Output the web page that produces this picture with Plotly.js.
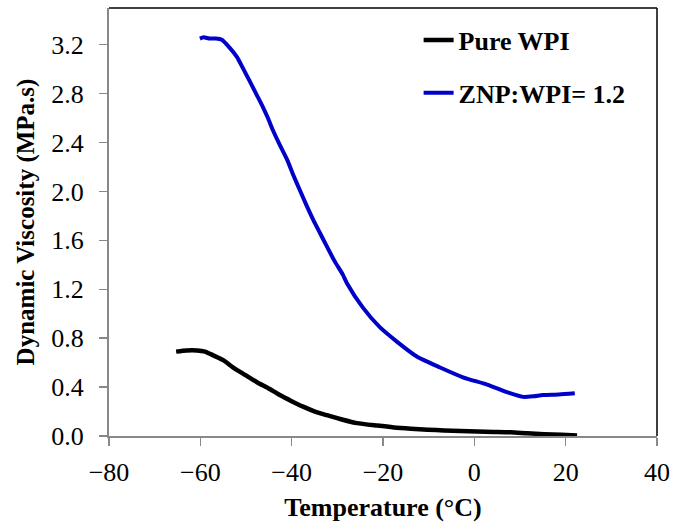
<!DOCTYPE html>
<html>
<head>
<meta charset="utf-8">
<script src="https://cdn.plot.ly/plotly-3.0.1.min.js"></script>
<style>html,body{margin:0;padding:0;background:#fff;}#chart{width:688px;height:522px;}</style>
</head>
<body>
<div id="chart"></div>
<script>
const seriesNames = ["Pure WPI", "ZNP:WPI= 1.2"];
const pureTemp = [-65.3, -63.0, -60.7, -59.0, -57.2, -55.0, -52.8, -50.2, -47.6, -45.1, -42.6, -40.0, -37.5, -34.9, -32.3, -29.0, -25.7, -21.3, -17.6, -13.9, -10.2, -6.6, -3.0, 0.6, 4.3, 8.0, 11.6, 15.3, 19.0, 22.5];
const pureVisc = [0.69, 0.70, 0.70, 0.69, 0.66, 0.62, 0.56, 0.50, 0.44, 0.39, 0.335, 0.285, 0.24, 0.20, 0.17, 0.135, 0.105, 0.085, 0.07, 0.06, 0.052, 0.045, 0.04, 0.036, 0.033, 0.03, 0.022, 0.015, 0.01, 0.005];
const znpTemp = [-60.1, -59.3, -58.0, -56.6, -55.3, -53.7, -52.0, -50.7, -49.3, -47.8, -46.3, -45.2, -44.1, -42.6, -41.0, -39.6, -38.2, -36.8, -35.3, -33.8, -32.3, -30.6, -28.8, -27.9, -24.4, -20.7, -16.9, -12.6, -7.5, -2.5, 2.8, 7.8, 10.7, 13.0, 15.0, 18.5, 22.0];
const znpVisc = [3.25, 3.26, 3.25, 3.25, 3.24, 3.18, 3.10, 3.01, 2.91, 2.80, 2.69, 2.60, 2.50, 2.38, 2.26, 2.13, 2.01, 1.89, 1.77, 1.66, 1.55, 1.43, 1.32, 1.25, 1.05, 0.89, 0.77, 0.65, 0.56, 0.48, 0.42, 0.35, 0.32, 0.325, 0.335, 0.34, 0.35];
const xTicks = [-80, -60, -40, -20, 0, 20, 40];
const yTicks = [0.0, 0.4, 0.8, 1.2, 1.6, 2.0, 2.4, 2.8, 3.2];

const serif = "Liberation Serif";
const traces = [
  {x: pureTemp, y: pureVisc, name: seriesNames[0], mode: "lines", type: "scatter", legendgroup: "a",
   line: {color: "#000000", width: 4.5, shape: "spline", smoothing: 0.6}},
  {x: znpTemp, y: znpVisc, name: seriesNames[1], mode: "lines", type: "scatter", legendgroup: "b",
   line: {color: "#0000c8", width: 4, shape: "spline", smoothing: 0.6}}
];
const layout = {
  width: 688, height: 522,
  margin: {l: 109, r: 31, t: 8, b: 86},
  paper_bgcolor: "#ffffff", plot_bgcolor: "#ffffff",
  font: {family: serif, color: "#000000", size: 26},
  showlegend: true,
  legend: {x: 0.565, y: 0.98, xanchor: "left", yanchor: "top", bgcolor: "rgba(0,0,0,0)",
    font: {family: serif, size: 26, color: "#000000", weight: "bold"},
    traceorder: "grouped", tracegroupgap: 16},
  xaxis: {
    range: [-80, 40], tickmode: "array", tickvals: xTicks, tickformat: "d",
    showgrid: false, zeroline: false, showline: true, linecolor: "#888888", linewidth: 2,
    ticks: "outside", ticklen: 8, tickwidth: 1.5, tickcolor: "#888888", ticklabelstandoff: 4,
    tickfont: {family: serif, size: 26, color: "#000000"},
    title: {text: "Temperature (°C)", font: {family: serif, size: 26, color: "#000000", weight: "bold"}, standoff: 14}
  },
  yaxis: {
    range: [0, 3.5], tickmode: "array", tickvals: yTicks, tickformat: ".1f",
    showgrid: false, zeroline: false, showline: true, linecolor: "#888888", linewidth: 2,
    ticks: "outside", ticklen: 8, tickwidth: 1.5, tickcolor: "#888888", ticklabelstandoff: 10,
    tickfont: {family: serif, size: 26, color: "#000000"},
    title: {text: "Dynamic Viscosity (MPa.s)", font: {family: serif, size: 25, color: "#000000", weight: "bold"}, standoff: 10}
  },
  shapes: [
    {type: "line", xref: "paper", yref: "paper", x0: 0, x1: 1, y0: 1, y1: 1, line: {color: "#000000", width: 1.5}},
    {type: "line", xref: "paper", yref: "paper", x0: 1, x1: 1, y0: 0, y1: 1, line: {color: "#000000", width: 1.5}}
  ]
};
Plotly.newPlot("chart", traces, layout, {displayModeBar: false, staticPlot: true});
</script>
</body>
</html>
